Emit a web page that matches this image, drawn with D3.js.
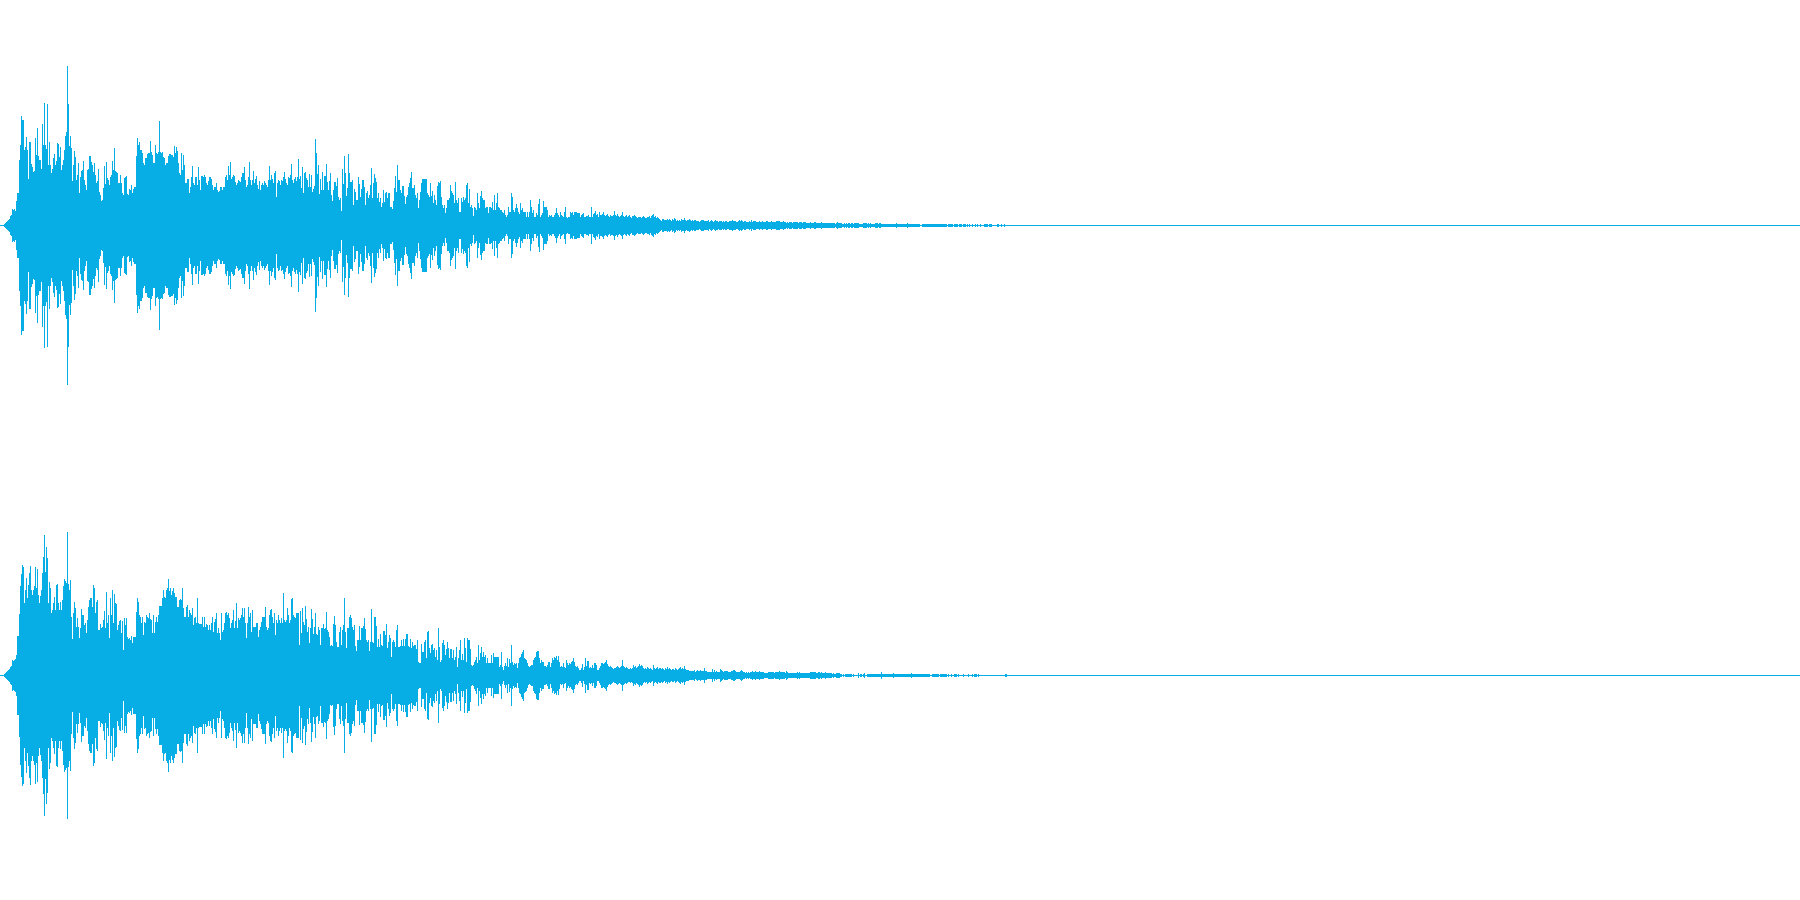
<!DOCTYPE html>
<html>
<head>
<meta charset="utf-8">
<style>html,body{margin:0;padding:0;background:#fff;overflow:hidden}svg{display:block}</style>
<script src="https://cdn.jsdelivr.net/npm/d3@7"></script>
</head>
<body>
<svg id="c" width="1800" height="900"></svg>
<script>
const duration = 1800;
const waveColor = "#07aee6";
const channel1 = [
0,0,0,0,1,2,3,4,5,6,9,10,16,15,16,14,24,32,32,65,
80,109,105,105,75,78,88,75,46,83,83,61,58,53,54,87,70,97,69,65,
65,56,101,80,122,80,76,121,60,83,60,52,56,67,71,60,64,82,81,68,
78,55,60,65,75,89,93,159,121,79,89,77,44,60,74,68,45,50,62,32,
48,54,55,64,45,40,35,55,56,69,69,63,60,53,62,50,42,44,56,33,
30,24,25,37,59,41,63,47,45,40,48,50,64,55,77,54,53,52,42,42,
50,42,32,30,47,48,49,31,30,36,35,40,32,36,38,38,69,87,80,83,
75,75,72,62,60,67,67,71,72,72,84,73,70,62,62,80,72,71,73,104,
73,72,73,68,67,60,62,62,69,71,71,70,70,68,79,72,78,74,62,52,
50,72,55,70,60,42,42,46,46,32,38,48,59,42,40,48,48,40,58,45,
35,49,49,48,50,48,42,40,44,48,48,46,40,35,38,38,42,35,33,34,
38,38,35,38,38,48,50,45,59,50,63,46,48,50,49,43,40,42,45,44,
43,48,52,52,58,45,38,40,48,63,45,40,45,54,42,46,49,40,36,44,
35,40,42,40,44,42,40,38,45,59,45,50,46,42,52,54,28,42,45,44,
40,45,44,48,53,46,42,40,48,47,50,61,45,42,46,48,44,48,66,46,
49,37,58,32,52,53,47,45,38,51,38,50,33,36,39,86,72,51,60,31,
46,35,53,35,49,49,61,43,35,44,52,30,24,35,43,43,39,47,28,25,
27,14,56,41,69,52,29,37,71,52,43,43,45,20,36,33,25,25,48,41,
28,36,45,45,38,20,32,34,27,30,40,57,27,42,51,47,43,27,32,23,
27,18,22,35,23,32,33,27,32,32,18,18,16,24,37,49,33,60,45,45,
35,32,39,39,29,21,28,30,38,42,47,53,37,37,40,30,27,32,17,25,
33,42,46,46,46,46,46,32,30,28,42,29,34,22,30,25,20,39,43,42,
44,28,20,17,20,12,17,25,25,27,40,34,32,30,22,43,25,22,27,13,
13,27,23,28,25,27,40,42,22,36,18,20,17,9,18,17,15,32,22,17,
29,34,27,25,25,17,18,18,12,18,18,17,23,15,30,15,22,32,18,17,
15,15,13,12,15,10,8,10,18,13,13,32,28,15,13,17,21,17,13,11,
22,15,17,13,13,13,8,13,8,13,25,18,12,15,8,8,12,10,21,26,
8,10,12,24,18,18,18,15,8,10,9,10,8,8,10,12,17,12,10,8,
13,10,9,8,13,18,8,7,8,8,13,12,13,10,13,13,13,12,12,12,
8,10,11,12,8,8,9,9,10,8,8,18,8,11,12,14,10,11,8,13,
10,10,11,13,10,9,10,11,9,8,10,9,9,10,14,10,9,11,9,8,
9,10,13,9,8,9,10,8,9,10,8,7,9,9,10,9,8,7,8,8,
8,7,8,9,8,7,7,8,8,9,7,9,10,11,8,9,7,8,7,6,
5,4,6,6,5,5,5,6,5,6,5,4,6,5,7,6,4,5,4,5,
4,6,5,5,7,5,4,5,5,6,5,4,5,4,5,5,4,4,4,3,
4,5,5,5,4,4,4,4,5,3,4,5,4,3,4,5,4,4,3,4,
4,4,3,4,3,4,4,3,3,4,4,4,5,4,4,4,3,3,4,5,
4,5,4,3,4,4,3,3,3,4,3,5,3,4,4,4,3,3,3,4,
3,3,4,3,3,3,4,4,3,3,3,4,3,3,3,3,4,4,4,4,
3,3,3,4,3,3,2,3,2,3,3,3,2,3,3,3,3,3,2,3,
3,3,2,3,3,3,2,2,2,2,3,2,2,2,3,3,2,2,2,2,
2,3,2,2,2,2,2,2,2,2,2,2,2,2,2,1,2,3,2,2,
2,2,1,1,2,1,2,1,2,2,1,2,2,1,2,2,2,2,2,1,
1,1,1,2,2,2,2,1,2,1,2,1,1,1,1,2,2,2,1,2,
2,1,1,1,1,1,1,1,1,1,1,1,1,1,1,1,2,1,1,1,
1,1,1,1,1,1,1,2,1,1,1,1,1,1,1,1,1,1,1,1,
0,0,1,1,1,1,1,1,1,1,1,1,1,1,1,1,1,1,1,1,
1,1,1,1,1,1,1,0,1,1,1,1,1,0,1,1,1,1,0,1,
1,1,0,1,1,1,0,1,0,1,0,0,1,0,0,1,0,1,0,0,
1,0,0,0,1,1,1,1,0,1,1,1,0,0,0,0,0,1,1,0,
0,1,0,0,1
];
const channel2 = [
0,0,0,0,1,2,3,4,5,6,8,9,15,14,15,16,20,39,39,61,
89,101,110,108,72,85,97,77,90,102,109,85,80,85,89,108,87,106,80,72,
79,85,102,118,140,103,128,117,72,93,87,62,65,72,78,65,90,91,72,65,
73,65,75,89,96,94,92,143,91,85,95,58,36,62,73,67,48,57,48,37,
47,66,60,60,50,52,42,55,68,75,77,77,68,90,87,62,73,75,45,45,
51,47,48,55,64,47,83,52,60,37,77,60,85,52,81,72,71,45,50,54,
55,42,54,25,57,50,57,38,36,37,35,39,32,38,38,38,63,77,73,60,
58,52,58,40,53,52,60,58,57,62,56,55,42,60,42,53,58,53,60,69,
69,69,77,85,78,77,85,87,96,84,87,80,84,87,82,78,78,68,68,75,
76,75,87,67,58,58,68,70,58,65,62,60,67,50,57,58,52,77,52,51,
51,51,58,48,58,48,51,50,45,50,45,52,58,43,53,56,62,42,47,42,
35,62,43,45,52,62,63,60,62,57,47,52,55,65,47,54,72,47,57,55,
57,60,67,58,67,52,37,52,68,58,62,43,65,48,48,48,52,52,38,45,
48,53,58,58,58,68,48,45,47,60,65,66,58,52,62,40,55,52,60,55,
52,57,52,82,55,53,55,67,60,52,55,76,77,60,58,57,62,62,62,30,
64,42,67,53,50,69,56,43,48,32,47,66,56,41,48,62,41,40,48,45,
30,47,47,51,46,47,63,45,43,38,29,30,29,51,59,50,33,28,28,43,
48,30,45,50,77,43,27,47,47,58,60,57,48,45,50,29,24,35,35,49,
35,47,47,49,57,46,35,33,35,24,33,66,33,32,58,58,49,28,36,28,
41,30,29,44,44,40,51,27,33,40,37,18,33,35,33,28,45,50,28,28,
29,35,29,36,29,36,41,41,29,28,36,27,33,29,30,30,26,35,13,12,
12,31,23,23,33,35,17,43,44,27,22,30,31,25,27,18,25,15,47,28,
13,15,32,35,30,20,26,33,27,17,26,26,17,25,15,18,28,8,17,25,
35,15,21,15,37,27,13,37,35,35,26,10,9,10,13,15,18,12,30,15,
22,28,18,23,18,20,12,17,12,12,12,20,12,22,18,18,18,18,18,8,
10,23,8,5,9,12,9,17,8,16,12,30,13,10,12,11,12,7,12,17,
18,21,23,25,17,16,15,12,9,8,9,10,10,15,17,18,23,24,24,17,
12,15,13,13,9,9,8,10,13,13,8,12,17,15,18,17,19,15,19,13,
8,9,8,12,8,7,15,12,10,12,11,13,14,17,13,9,8,9,7,5,
5,7,11,5,8,17,9,14,14,7,8,7,10,7,12,12,10,5,5,7,
9,12,12,11,12,13,15,11,9,8,9,8,7,6,7,7,8,9,8,7,
8,9,15,9,8,7,8,7,6,6,7,6,7,10,8,9,7,8,9,11,
9,10,9,7,6,7,6,8,7,6,7,6,5,10,7,6,7,8,6,7,
7,6,7,6,5,7,6,8,6,7,6,5,6,6,5,7,6,5,6,7,
8,6,7,6,9,6,5,5,5,4,4,4,4,4,5,3,4,5,4,4,
5,4,4,4,7,4,4,3,3,3,3,3,6,3,5,3,4,3,3,3,
6,5,4,3,4,4,4,4,3,3,3,4,4,5,5,4,3,3,3,3,
4,5,4,3,3,2,3,2,3,2,3,3,4,3,3,4,3,3,3,4,
3,3,3,3,2,2,2,2,3,3,3,3,3,3,2,3,3,3,3,4,
3,3,3,3,3,2,4,3,2,2,2,2,2,2,2,2,2,3,2,3,
2,2,2,2,2,2,2,2,2,2,3,3,3,3,3,3,2,2,3,3,
2,3,2,2,2,3,2,2,2,2,2,2,1,2,1,1,2,2,2,2,
1,1,0,1,0,1,1,1,1,1,1,1,0,1,0,0,0,0,2,0,
1,1,0,1,2,0,0,1,1,1,1,1,1,1,1,1,1,1,1,1,
1,3,1,1,1,1,1,1,1,1,1,1,1,2,1,1,1,1,1,1,
1,1,1,1,1,1,1,1,1,1,1,2,1,1,1,1,1,1,1,1,
1,1,1,1,1,1,1,1,1,1,0,0,1,1,1,1,1,1,1,0,
1,1,1,1,1,1,1,0,1,0,0,1,0,0,1,1,1,0,1,0,
0,0,0,1,0,0,0,0,1,0,0,0,1,0,1,1,1,0,1,0,
0,0,0,0,0,0,0,0,0,0,0,0,0,0,0,0,0,0,0,0,
0,0,0,0,0,1,1
];
const channels = [channel1, channel2];

const width = 1800, panelHeight = 450;
const x = d3.scaleLinear().domain([0, duration]).range([0, width]);
const y = d3.scaleLinear().domain([-225, 225]).range([panelHeight, 0]);
const svg = d3.select("#c");

const panels = svg.selectAll("g.channel").data(channels).join("g")
  .attr("class", "channel")
  .attr("transform", (d, i) => `translate(0,${i * panelHeight})`)
  .attr("shape-rendering", "crispEdges")
  .attr("fill", waveColor);

panels.append("rect")
  .attr("class", "baseline")
  .attr("x", x(0)).attr("y", y(0))
  .attr("width", x(duration) - x(0)).attr("height", 1);

panels.selectAll("rect.col").data(d => d).join("rect")
  .attr("class", "col")
  .attr("x", (d, i) => x(i))
  .attr("width", (d, i) => x(i + 1) - x(i))
  .attr("y", d => y(d))
  .attr("height", d => y(-d) - y(d) + 1);
</script>
</body>
</html>
